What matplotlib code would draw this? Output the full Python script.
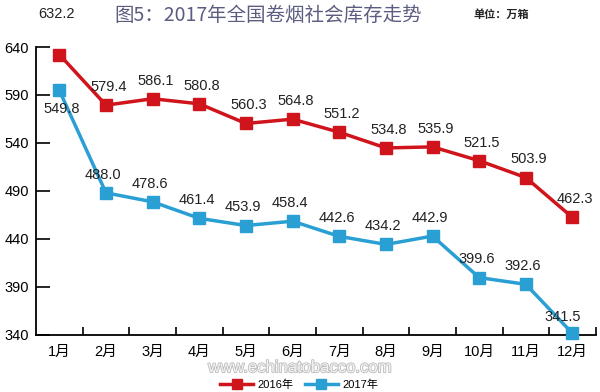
import matplotlib
matplotlib.use("Agg")
import matplotlib.pyplot as plt
import matplotlib.patheffects as pe
import numpy as np

plt.rcParams["font.family"] = ["Liberation Sans", "Noto Sans CJK SC", "DejaVu Sans"]

MONTHS = ["1月", "2月", "3月", "4月", "5月", "6月", "7月", "8月", "9月", "10月", "11月", "12月"]
Y2016 = [632.2, 579.4, 586.1, 580.8, 560.3, 564.8, 551.2, 534.8, 535.9, 521.5, 503.9, 462.3]
# Jan 2017 point sits near 595 in the picture although its label reads 549.8
Y2017 = [594.8, 488.0, 478.6, 461.4, 453.9, 458.4, 442.6, 434.2, 442.9, 399.6, 392.6, 341.5]
LABELS_2016 = ["632.2", "579.4", "586.1", "580.8", "560.3", "564.8", "551.2", "534.8",
               "535.9", "521.5", "503.9", "462.3"]
LABELS_2017 = ["549.8", "488.0", "478.6", "461.4", "453.9", "458.4", "442.6", "434.2",
               "442.9", "399.6", "392.6", "341.5"]
YTICKS = [340, 390, 440, 490, 540, 590, 640]

RED = "#d0141c"
BLUE = "#2a9fd4"

fig = plt.figure(figsize=(6, 3.92), dpi=100)
ax = fig.add_axes([0.06, 0.146, 0.933, 0.734])
x = np.arange(len(MONTHS))

ax.plot(x, Y2016, color=RED, lw=2.5, marker="s", ms=8, label="2016年", clip_on=False, zorder=3)
ax.plot(x, Y2017, color=BLUE, lw=2.5, marker="s", ms=8, label="2017年", clip_on=False, zorder=3)

# label offsets in points (dx, dy)
off16 = {0: (-2, 24)}
off17 = {0: (2, -8), 11: (-7, 7)}
for i, (v, t) in enumerate(zip(Y2016, LABELS_2016)):
    dx, dy = off16.get(i, (2, 8))
    ax.annotate(t, (i, v), xytext=(dx, dy), textcoords="offset points",
                ha="center", va="bottom", fontsize=10.5, color="#222222", annotation_clip=False)
for i, (v, t) in enumerate(zip(Y2017, LABELS_2017)):
    dx, dy = off17.get(i, (-2, 8))
    ax.annotate(t, (i, v), xytext=(dx, dy), textcoords="offset points",
                ha="center", va="bottom" if dy > 0 else "top", fontsize=10.5,
                color="#222222", annotation_clip=False)

ax.set_xlim(-0.5, 11.5)
ax.set_ylim(340, 640)
ax.set_yticks(YTICKS)
ax.set_xticks(x)
ax.set_xticklabels(MONTHS)
ax.set_xticks(np.arange(0.5, 12, 1), minor=True)
ax.tick_params(axis="x", which="major", length=0, pad=7, labelsize=10.5)
ax.tick_params(axis="x", which="minor", direction="in", length=6, width=1.2)
ax.tick_params(axis="y", direction="in", length=10, width=1.2, pad=5, labelsize=10.5)
for s in ["top", "right"]:
    ax.spines[s].set_visible(False)
for s in ["left", "bottom"]:
    ax.spines[s].set_linewidth(1.3)

fig.text(0.447, 0.962, "图5：2017年全国卷烟社会库存走势", ha="center", va="center",
         fontsize=14, color="#5b5d80", family=["Noto Sans CJK SC", "DejaVu Sans"])
fig.text(0.835, 0.962, "单位：万箱", ha="center", va="center", fontsize=8,
         fontweight="bold", color="#222222", family=["Noto Sans CJK SC", "DejaVu Sans"])

fig.text(0.5, 0.062, "www.echinatobacco.com", ha="center", va="center", fontsize=12,
         color="#f4f4f4", path_effects=[pe.withStroke(linewidth=1.2, foreground="#bbbbbb")])

ax.legend(loc="lower center", bbox_to_anchor=(0.47, -0.225), ncol=2, frameon=False,
          fontsize=8, handlelength=3, columnspacing=1.0, handletextpad=0.4, markerscale=0.9)

fig.savefig("out.png", dpi=100)
